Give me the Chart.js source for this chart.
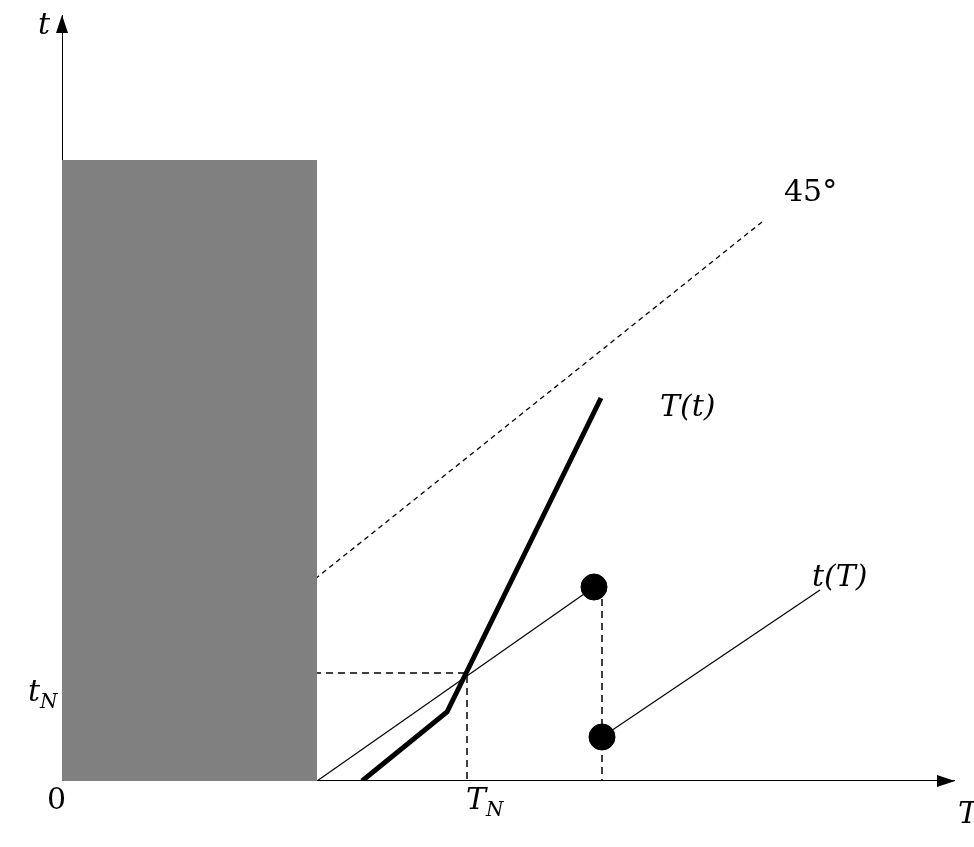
<!DOCTYPE html>
<html><head><meta charset="utf-8">
<script src="https://cdn.jsdelivr.net/npm/chart.js@4/dist/chart.umd.min.js"></script>
<style>html,body{margin:0;padding:0;background:#fff}#w{width:974px;height:847px}</style>
</head><body><div id="w"><canvas id="c"></canvas></div>
<script>
const xMax = 893, yMax = 766;
const shadeRect = [{x:0,y:621},{x:255,y:621}];
const line45 = [{x:0,y:0},{x:700,y:559}];
const curveTt = [{x:300,y:0},{x:385,y:69},{x:539,y:383}];
const curvetT1 = [{x:255,y:0},{x:532,y:194}];
const curvetT2 = [{x:540,y:44},{x:758,y:191}];
const jumpLine = [{x:540,y:194},{x:540,y:0}];
const dots = [{x:532,y:194},{x:540,y:44}];
const tNLine = [{x:0,y:108},{x:405,y:108},{x:405,y:0}];
const xAxis = [{x:0,y:0},{x:xMax,y:0}];
const yAxis = [{x:0,y:0},{x:0,y:yMax}];
const labels = [
  {t:"t",x:-24,y:755},{t:"0",x:-15,y:-20},{t:"t",s:"N",x:-34,y:88},
  {t:"T",s:"N",x:404,y:-20},{t:"T",x:896,y:-34},{t:"45°",x:722,y:588,up:true},
  {t:"T(t)",x:598,y:373},{t:"t(T)",x:750,y:203}
];
const L = (d,o)=>Object.assign({type:'scatter',data:d,showLine:true,pointRadius:0,borderColor:'#000',borderWidth:1.2,fill:false},o||{});
const annot = {id:'annot',afterDatasetsDraw(ch){
  const c=ch.ctx,xs=ch.scales.x,ys=ch.scales.y;
  c.save();c.fillStyle='#000';
  // arrowheads
  let px=xs.getPixelForValue(xMax),py=ys.getPixelForValue(0);
  c.beginPath();c.moveTo(px,py);c.lineTo(px-18,py-6);c.lineTo(px-18,py+6);c.fill();
  px=xs.getPixelForValue(0);py=ys.getPixelForValue(yMax);
  c.beginPath();c.moveTo(px,py);c.lineTo(px-6,py+18);c.lineTo(px+6,py+18);c.fill();
  c.textBaseline='middle';
  for(const l of labels){
    const X=xs.getPixelForValue(l.x),Y=ys.getPixelForValue(l.y);
    c.font=(l.t==="0"||l.t==="45°"?'':'italic ')+'30px "DejaVu Serif"';
    c.fillText(l.t,X,Y);
    if(l.s){const w=c.measureText(l.t).width;c.font='italic 20px "DejaVu Serif"';c.fillText(l.s,X+w,Y+10);}
  }
  c.restore();
}};
new Chart(document.getElementById('c'),{
  type:'scatter',
  data:{datasets:[
    L(shadeRect,{fill:'origin',backgroundColor:'#808080',borderWidth:0,borderColor:'#808080'}),
    L(line45,{borderDash:[5,4],borderWidth:1.3}),
    L(tNLine,{borderDash:[7,5],borderWidth:1.5}),
    L(jumpLine,{borderDash:[7,5],borderWidth:1.5}),
    L(curvetT1),L(curvetT2),
    L(curveTt,{borderWidth:5}),
    {type:'scatter',data:dots,pointRadius:13,backgroundColor:'#000',borderColor:'#000'},
    L(xAxis,{borderWidth:2}),L(yAxis,{borderWidth:2})
  ]},
  options:{responsive:true,maintainAspectRatio:false,animation:false,
    layout:{padding:{left:62,right:19,top:15,bottom:66}},
    plugins:{legend:{display:false},tooltip:{enabled:false}},
    scales:{x:{type:'linear',min:0,max:xMax,display:false},y:{type:'linear',min:0,max:yMax,display:false}}},
  plugins:[annot]
});
</script></body></html>
